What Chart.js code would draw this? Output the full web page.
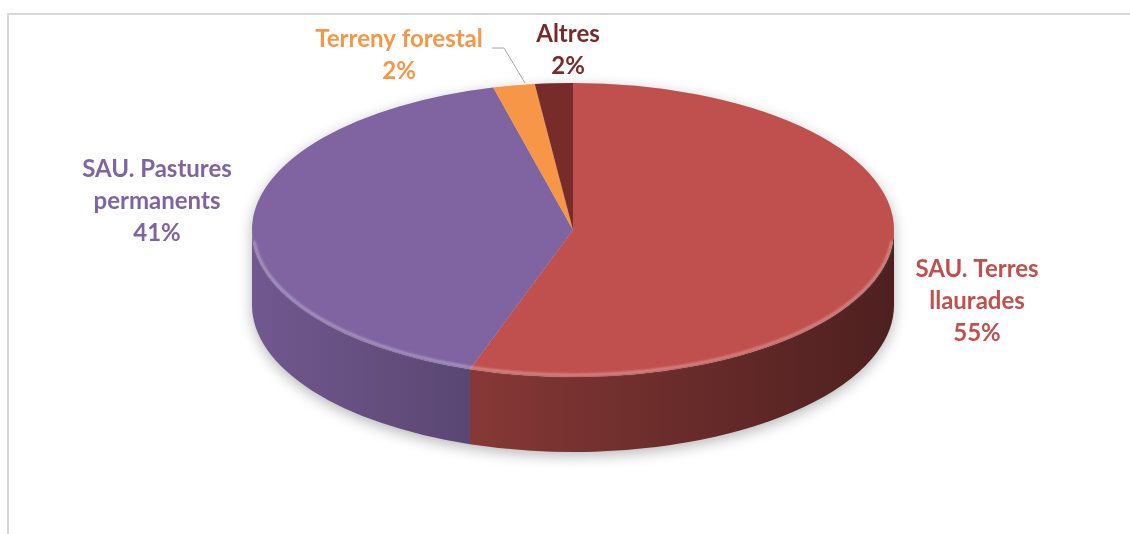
<!DOCTYPE html>
<html>
<head>
<meta charset="utf-8">
<script src="https://cdn.jsdelivr.net/npm/chart.js@4.4.0/dist/chart.umd.min.js"></script>
<style>
  html, body { margin: 0; padding: 0; background: #fff; overflow: hidden; }
  #frame { position: absolute; left: 7px; top: 13px; width: 1200px; height: 600px; border: 2px solid #d9d9d9; box-sizing: border-box; }
  #wrap { position: absolute; left: 0; top: 0; width: 1130px; height: 534px; }
</style>
</head>
<body>
<div id="frame"></div>
<div id="wrap"><canvas id="chart"></canvas></div>
<script>
// data
const categories = [
  ['SAU. Terres', 'llaurades'],
  ['SAU. Pastures', 'permanents'],
  ['Terreny forestal'],
  ['Altres']
];
const shares = [55.2, 40.8, 2.1, 1.9];
const sliceColors = ['#C0504D', '#8064A2', '#F79646', '#772C2A'];

// where Excel put the data labels (center x, first baseline y)
const labelPos = [
  { x: 977, y: 277 },
  { x: 157, y: 177 },
  { x: 399, y: 47 },
  { x: 568, y: 42 }
];
const leader = [[492, 48], [504, 48], [525, 83]];
const DEPTH = 75;
const LINE_H = 32;

function shade(hex, f) {
  const n = parseInt(hex.slice(1), 16);
  const r = Math.round(((n >> 16) & 255) * f);
  const g = Math.round(((n >> 8) & 255) * f);
  const b = Math.round((n & 255) * f);
  return 'rgb(' + r + ',' + g + ',' + b + ')';
}

// parts of an arc that face the viewer (lower half of the ellipse)
function frontParts(s, e) {
  const out = [];
  for (let k = -1; k <= 2; k++) {
    const lo = Math.max(s, k * 2 * Math.PI);
    const hi = Math.min(e, k * 2 * Math.PI + Math.PI);
    if (hi > lo) out.push([lo, hi]);
  }
  return out;
}

function geom(chart) {
  const meta = chart.getDatasetMeta(0);
  const a = chart.chartArea;
  const el = meta.data[0];
  const r = el.outerRadius;
  return { meta, cx: el.x, cy: el.y, r, sx: (a.right - a.left) / 2 / r };
}

const pie3d = {
  id: 'pie3d',
  beforeDatasetsDraw(chart) {
    const ctx = chart.ctx;
    const { meta, cx, cy, r, sx } = geom(chart);
    const rx = r * sx, ry = r;

    // soft shadow under the disc
    ctx.save();
    ctx.shadowColor = 'rgba(0,0,0,0.28)';
    ctx.shadowBlur = 14;
    ctx.shadowOffsetY = 4;
    ctx.fillStyle = '#ccc';
    ctx.beginPath();
    ctx.ellipse(cx, cy, rx, ry, 0, Math.PI, 2 * Math.PI);
    ctx.ellipse(cx, cy + DEPTH, rx, ry, 0, 0, Math.PI);
    ctx.closePath();
    ctx.fill();
    ctx.restore();

    // side walls
    meta.data.forEach((arc, i) => {
      const grad = ctx.createLinearGradient(cx - rx, 0, cx + rx, 0);
      grad.addColorStop(0, shade(sliceColors[i], 0.88));
      grad.addColorStop(0.5, shade(sliceColors[i], 0.62));
      grad.addColorStop(1, shade(sliceColors[i], 0.40));
      frontParts(arc.startAngle, arc.endAngle).forEach(([lo, hi]) => {
        ctx.beginPath();
        ctx.ellipse(cx, cy, rx, ry, 0, lo, hi);
        ctx.ellipse(cx, cy + DEPTH, rx, ry, 0, hi, lo, true);
        ctx.closePath();
        ctx.fillStyle = grad;
        ctx.fill();
      });
    });

    // squash the flat pie into the top face
    ctx.save();
    ctx.translate(cx, cy);
    ctx.scale(sx, 1);
    ctx.translate(-cx, -cy);
  },
  afterDatasetsDraw(chart) {
    const ctx = chart.ctx;
    ctx.restore();
    const { cx, cy, r, sx } = geom(chart);

    // light rim on the front edge
    ctx.save();
    ctx.strokeStyle = 'rgba(255,255,255,0.35)';
    ctx.lineWidth = 2.5;
    ctx.filter = 'blur(0.8px)';
    ctx.beginPath();
    ctx.ellipse(cx, cy - 1, r * sx - 1, r - 1, 0, 0.08, Math.PI - 0.08);
    ctx.stroke();
    ctx.restore();
  },
  afterDraw(chart) {
    const ctx = chart.ctx;
    const total = shares.reduce((s, v) => s + v, 0);
    ctx.save();
    ctx.strokeStyle = '#a6a6a6';
    ctx.lineWidth = 1;
    ctx.beginPath();
    leader.forEach(([x, y], k) => k ? ctx.lineTo(x, y) : ctx.moveTo(x, y));
    ctx.stroke();

    ctx.font = 'bold 24px Lato';
    ctx.textAlign = 'center';
    ctx.textBaseline = 'alphabetic';
    categories.forEach((lines, i) => {
      const p = labelPos[i];
      const all = lines.concat([Math.round(shares[i] / total * 100) + '%']);
      ctx.fillStyle = sliceColors[i];
      all.forEach((t, k) => ctx.fillText(t, p.x, p.y + k * LINE_H));
    });
    ctx.restore();
  }
};

new Chart(document.getElementById('chart'), {
  type: 'pie',
  data: {
    labels: categories.map(c => c.join(' ')),
    datasets: [{
      data: shares,
      backgroundColor: sliceColors,
      borderWidth: 0,
      clip: false
    }]
  },
  options: {
    responsive: true,
    maintainAspectRatio: false,
    animation: false,
    layout: { padding: { top: 83, bottom: 157, left: 252, right: 236 } },
    plugins: {
      legend: { display: false },
      tooltip: { enabled: false }
    }
  },
  plugins: [pie3d]
});
</script>
</body>
</html>
